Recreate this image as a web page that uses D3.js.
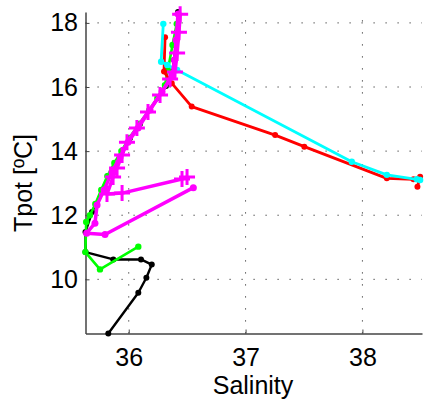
<!DOCTYPE html>
<html>
<head>
<meta charset="utf-8">
<script src="https://cdn.jsdelivr.net/npm/d3@7"></script>
<style>
html,body{margin:0;padding:0;background:#fff;}
svg{display:block;}
text{font-family:"Liberation Sans",Arial,sans-serif;fill:#000;}
</style>
</head>
<body>
<svg id="chart" width="425" height="403"></svg>
<script>
// ---- data ----
const xTicks = [36, 37, 38];
const yTicks = [10, 12, 14, 16, 18];
const xLabel = "Salinity";
const yLabel = "Tpot [ºC]";

const blackS = [36.422,36.405,36.388,36.371,36.319,36.251,36.182,36.097,36.011,35.943,35.883,35.823,35.771,35.720,35.686,35.630,35.630,35.868,36.105,36.197,36.151,36.082,35.825];
const blackT = [18.34,17.47,16.84,16.47,16.03,15.66,15.28,14.85,14.41,14.00,13.63,13.22,12.79,12.35,12.10,11.48,10.85,10.62,10.62,10.46,10.05,9.58,8.31];

const greenS = [36.411,36.375,36.335,36.310,36.245,36.176,36.090,36.005,35.937,35.877,35.817,35.765,35.714,35.668,35.636,35.629,35.754,36.082];
const greenT = [17.97,17.31,16.53,16.06,15.66,15.28,14.85,14.41,14.00,13.63,13.22,12.79,12.35,12.00,11.79,10.85,10.31,11.02];

const redS = [36.311,36.302,36.368,36.539,37.253,37.503,38.209,38.437,38.494,38.471];
const redT = [17.55,16.48,16.12,15.39,14.50,14.14,13.15,13.12,13.20,12.89];

const cyanS = [36.296,36.277,36.330,36.414,37.909,38.209,38.466,38.494];
const cyanT = [17.97,16.79,16.69,16.53,13.67,13.26,13.12,13.10];

const magDotS = [36.422,36.405,36.392,36.371,36.285,36.182,36.080,35.994,35.926,35.857,35.789,35.729,35.711,35.640,35.797,36.553];
const magDotT = [18.28,17.47,16.84,16.37,15.85,15.28,14.72,14.28,13.82,13.35,12.79,12.32,11.75,11.44,11.40,12.86];

const magPlusS = [36.440,36.430,36.414,36.396,36.354,36.268,36.165,36.070,35.985,35.943,35.900,35.866,35.814,35.943,36.456,36.499];
const magPlusT = [18.27,17.71,17.06,16.47,16.25,15.75,15.22,14.72,14.28,13.88,13.47,13.19,12.66,12.69,13.13,13.19];

// ---- drawing ----
const svg = d3.select("#chart");
const mLeft = 85.5, mRight = 422, mTop = 12, mBottom = 333.5;
const x = d3.scaleLinear().domain([35.63, 38.51]).range([mLeft, mRight]);
const y = d3.scaleLinear().domain([8.31, 18.34]).range([mBottom, mTop]);

// grid (dotted)
const grid = svg.append("g");
grid.selectAll("line.gx").data(xTicks).join("line")
  .attr("x1", d => x(d)).attr("x2", d => x(d))
  .attr("y1", mBottom).attr("y2", mTop)
  .attr("stroke", "#333").attr("stroke-width", 1).attr("stroke-dasharray", "1.2,10.8");
grid.selectAll("line.gy").data(yTicks).join("line")
  .attr("x1", mLeft).attr("x2", mRight)
  .attr("y1", d => y(d)).attr("y2", d => y(d))
  .attr("stroke", "#333").attr("stroke-width", 1).attr("stroke-dasharray", "1.2,10.8");

// axes
const xAxis = d3.axisBottom(x).tickValues(xTicks).tickFormat(d3.format("d"))
  .tickSizeInner(-4).tickSizeOuter(0).tickPadding(14.5);
const yAxis = d3.axisLeft(y).tickValues(yTicks).tickFormat(d3.format("d"))
  .tickSizeInner(-4).tickSizeOuter(0).tickPadding(7.5);

const gx = svg.append("g").attr("transform", `translate(0,${mBottom})`).call(xAxis);
const gy = svg.append("g").attr("transform", `translate(${mLeft},0)`).call(yAxis);
[gx, gy].forEach(g => {
  g.select(".domain").attr("stroke", "#444").attr("stroke-width", 1.5);
  g.selectAll(".tick line").attr("stroke", "#444").attr("stroke-width", 1);
  g.selectAll(".tick text").attr("font-size", 25).attr("fill", "#000")
    .attr("font-family", "'Liberation Sans', Arial, sans-serif");
});

// axis labels
svg.append("text").attr("x", 253).attr("y", 394).attr("text-anchor", "middle")
  .attr("font-size", 25).text(xLabel);
svg.append("text").attr("transform", "translate(32,183) rotate(-90)")
  .attr("text-anchor", "middle").attr("font-size", 25).text(yLabel);

// series
const plot = svg.append("g");
const line = d3.line().x(d => x(d[0])).y(d => y(d[1]));
function zip(a, b) { return a.map((v, i) => [v, b[i]]); }

function drawSeries(S, T, color, width, marker, r) {
  const pts = zip(S, T);
  plot.append("path").datum(pts).attr("d", line)
    .attr("fill", "none").attr("stroke", color).attr("stroke-width", width)
    .attr("stroke-linejoin", "round").attr("stroke-linecap", "round");
  if (marker === "dot") {
    plot.append("g").selectAll("circle").data(pts).join("circle")
      .attr("cx", d => x(d[0])).attr("cy", d => y(d[1])).attr("r", r || 3)
      .attr("fill", color);
  } else if (marker === "plus") {
    const g = plot.append("g");
    const h = 8;
    g.selectAll("path").data(pts).join("path")
      .attr("d", d => {
        const px = x(d[0]), py = y(d[1]);
        return `M${px - h},${py}H${px + h}M${px},${py - h}V${py + h}`;
      })
      .attr("stroke", color).attr("stroke-width", 3).attr("fill", "none");
  }
}

drawSeries(blackS, blackT, "#000000", 2.4, "dot", 3);
drawSeries(greenS, greenT, "#00ff00", 2.6, "dot", 3.2);
drawSeries(redS, redT, "#ff0000", 2.8, "dot", 3);
drawSeries(cyanS, cyanT, "#00ffff", 2.8, "dot", 3.2);
drawSeries(magDotS, magDotT, "#ff00ff", 3.5, "dot", 3.5);
drawSeries(magPlusS, magPlusT, "#ff00ff", 3.5, "plus");
</script>
</body>
</html>
